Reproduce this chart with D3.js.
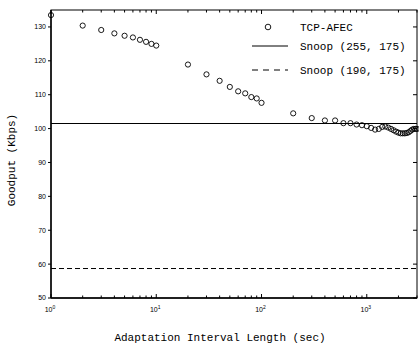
<!DOCTYPE html>
<html>
<head>
<meta charset="utf-8">
<script src="https://cdn.jsdelivr.net/npm/d3@7"></script>
<style>
  body { margin: 0; background: #fff; }
  svg { display: block; }
</style>
</head>
<body>
<svg id="chart" width="419" height="345"></svg>
<script>
// interval lengths (sec)
const intervals = [
  1, 2, 3, 4, 5, 6, 7, 8, 9, 10,
  20, 30, 40, 50, 60, 70, 80, 90, 100,
  200, 300, 400, 500, 600, 700, 800, 900, 1000,
  1100, 1200, 1300, 1400, 1500, 1600, 1700, 1800, 1900, 2000,
  2100, 2200, 2300, 2400, 2500, 2600, 2700, 2800, 2900, 3000
];
// TCP-AFEC goodput (Kbps)
const afecGoodput = [
  133.5, 130.4, 129.1, 128.1, 127.4, 126.9, 126.2, 125.6, 125.0, 124.5,
  118.9, 116.0, 114.1, 112.3, 111.0, 110.4, 109.3, 108.9, 107.6,
  104.5, 103.1, 102.4, 102.4, 101.6, 101.6, 101.2, 101.0, 100.7,
  100.2, 99.7, 99.9, 100.5, 100.6, 100.3, 99.9, 99.5, 99.1, 98.8,
  98.6, 98.6, 98.6, 98.7, 98.9, 99.3, 99.7, 99.9, 99.9, 99.9
];
const snoop255 = 101.5;
const snoop190 = 58.7;
const yTicks = [50, 60, 70, 80, 90, 100, 110, 120, 130];
const xMajor = [1, 10, 100, 1000];

const svg = d3.select("svg#chart");
const margin = { top: 10, right: 2, bottom: 47, left: 51 };
const width = 419 - margin.left - margin.right;
const height = 345 - margin.top - margin.bottom;
const g = svg.append("g").attr("transform", `translate(${margin.left}, ${margin.top})`);

const x = d3.scaleLog().domain([1, 3000]).range([0, width]);
const y = d3.scaleLinear().domain([50, 135]).range([height, 0]);

const minor = [];
for (let e = 0; e < 4; e++) {
  for (let k = 2; k <= 9; k++) {
    const v = k * Math.pow(10, e);
    if (v <= 3000) minor.push(v);
  }
}

// frame
g.append("rect")
  .attr("width", width).attr("height", height)
  .attr("fill", "none").attr("stroke", "#000").attr("stroke-width", 1);

// bottom/left axes slightly heavier
g.append("line").attr("x1", 0).attr("x2", width).attr("y1", height).attr("y2", height)
  .attr("stroke", "#000").attr("stroke-width", 1.6);
g.append("line").attr("x1", 0).attr("x2", 0).attr("y1", 0).attr("y2", height)
  .attr("stroke", "#000").attr("stroke-width", 1.4);

// y ticks: left outward, right inward
const yt = g.append("g");
yt.selectAll("line.l").data(yTicks).join("line")
  .attr("x1", -3).attr("x2", 0)
  .attr("y1", (d) => y(d)).attr("y2", (d) => y(d))
  .attr("stroke", "#000").attr("stroke-width", 1);
yt.selectAll("line.r").data(yTicks).join("line")
  .attr("class", "r")
  .attr("x1", width - 4).attr("x2", width)
  .attr("y1", (d) => y(d)).attr("y2", (d) => y(d))
  .attr("stroke", "#000").attr("stroke-width", 1);
yt.selectAll("text").data(yTicks).join("text")
  .attr("x", -5).attr("y", (d) => y(d))
  .attr("dy", "0.35em")
  .attr("text-anchor", "end")
  .style("font-family", "Liberation Sans, Arial, sans-serif")
  .style("font-size", "7px")
  .text((d) => d);

// x ticks, top and bottom, inward
const xt = g.append("g");
const tickLen = (d) => (xMajor.includes(d) ? 4 : 2.5);
const allX = xMajor.concat(minor);
xt.selectAll("line.b").data(allX).join("line")
  .attr("class", "b")
  .attr("x1", (d) => x(d)).attr("x2", (d) => x(d))
  .attr("y1", height).attr("y2", (d) => height - tickLen(d))
  .attr("stroke", "#000").attr("stroke-width", 1);
xt.selectAll("line.t").data(allX).join("line")
  .attr("class", "t")
  .attr("x1", (d) => x(d)).attr("x2", (d) => x(d))
  .attr("y1", 0).attr("y2", (d) => tickLen(d))
  .attr("stroke", "#000").attr("stroke-width", 1);
const xl = xt.selectAll("text").data(xMajor).join("text")
  .attr("x", (d) => x(d) - 1)
  .attr("y", height + 14)
  .attr("text-anchor", "middle")
  .style("font-family", "Liberation Sans, Arial, sans-serif")
  .style("font-size", "7px");
xl.append("tspan").text("10");
xl.append("tspan")
  .attr("dy", -3)
  .style("font-size", "5px")
  .text((d) => Math.round(Math.log10(d)));

// Snoop lines
g.append("line")
  .attr("x1", 0).attr("x2", width)
  .attr("y1", y(snoop255)).attr("y2", y(snoop255))
  .attr("stroke", "#000").attr("stroke-width", 1);
g.append("line")
  .attr("x1", 0).attr("x2", width)
  .attr("y1", y(snoop190)).attr("y2", y(snoop190))
  .attr("stroke", "#000").attr("stroke-width", 1)
  .attr("stroke-dasharray", "5,3");

// TCP-AFEC markers
g.append("g")
  .selectAll("circle")
  .data(intervals.map((d, i) => [d, afecGoodput[i]]))
  .join("circle")
  .attr("cx", (d) => x(d[0]))
  .attr("cy", (d) => y(d[1]))
  .attr("r", 2.6)
  .attr("fill", "none")
  .attr("stroke", "#000")
  .attr("stroke-width", 0.9);

// legend
const mono = "Liberation Mono, Courier New, monospace";
const lg = svg.append("g");
lg.append("circle").attr("cx", 268).attr("cy", 27).attr("r", 2.8)
  .attr("fill", "none").attr("stroke", "#000").attr("stroke-width", 0.9);
lg.append("line").attr("x1", 252).attr("x2", 288).attr("y1", 46).attr("y2", 46)
  .attr("stroke", "#000").attr("stroke-width", 1);
lg.append("line").attr("x1", 252).attr("x2", 288).attr("y1", 70).attr("y2", 70)
  .attr("stroke", "#000").attr("stroke-width", 1).attr("stroke-dasharray", "6,5");
lg.selectAll("text")
  .data([["TCP-AFEC", 27], ["Snoop (255, 175)", 46], ["Snoop (190, 175)", 70]])
  .join("text")
  .attr("x", 300).attr("y", (d) => d[1]).attr("dy", "0.35em")
  .style("font-family", mono).style("font-size", "11px")
  .text((d) => d[0]);

// axis labels
svg.append("text")
  .attr("x", 220).attr("y", 341)
  .attr("text-anchor", "middle")
  .style("font-family", mono).style("font-size", "11px")
  .text("Adaptation Interval Length (sec)");
svg.append("text")
  .attr("transform", "translate(15, 160) rotate(-90)")
  .attr("text-anchor", "middle")
  .style("font-family", mono).style("font-size", "11px")
  .text("Goodput (Kbps)");
</script>
</body>
</html>
